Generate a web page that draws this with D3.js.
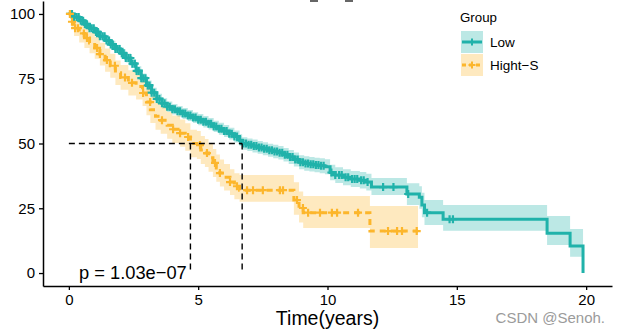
<!DOCTYPE html>
<html><head><meta charset="utf-8">
<script src="https://cdn.jsdelivr.net/npm/d3@7"></script>
<style>
body{margin:0;background:#fff}
svg{display:block;font-family:"Liberation Sans",Arial,Helvetica,sans-serif}
</style></head>
<body><svg id="chart" width="620" height="333"></svg>
<script>
// ---------- data ----------
const groups = ["Low", "Hight\u2212S"];
const groupColors = ["#20B2AA", "#FCB62C"];

const lowTime  = [0,0.2,0.4,0.6,0.8,1.0,1.2,1.4,1.6,1.8,2.0,2.2,2.4,2.6,2.8,3.0,3.2,3.4,3.6,3.8,4.0,4.2,4.4,4.6,4.8,5.0,5.2,5.4,5.6,5.8,6.0,6.2,6.4,6.6,6.7,6.9,7.1,7.3,7.5,7.7,7.9,8.1,8.3,8.5,8.7,8.9,9.1,9.3,9.5,9.7,9.9,10.1,10.3,10.6,10.9,11.25,11.5,11.7,13.07,13.55,13.65,13.75,14.47,18.49,19.38,19.88];
const lowSurv  = [100,98.8,97.4,96.0,94.5,93.0,91.4,89.8,88.2,86.5,84.8,83.0,80.8,78.0,75.2,72.4,69.6,67.2,65.5,64.2,63.2,62.4,61.6,60.8,60.0,59.2,58.4,57.6,56.6,55.7,54.8,53.8,52.7,51.3,50.0,49.5,49.0,48.5,48.0,47.4,46.9,46.4,45.7,44.8,43.8,42.8,42.3,42.0,41.7,41.4,41.0,38.8,37.8,37.0,36.3,35.8,35.1,33.2,30.5,29.3,26.3,23.3,20.8,15.4,10.4,0];
const lowLower = [100,98.0,96.4,94.9,93.3,91.7,90.0,88.3,86.7,84.9,83.2,81.3,79.1,76.2,73.4,70.5,67.7,65.2,63.5,62.2,61.2,60.3,59.5,58.7,57.9,57.0,56.2,55.4,54.4,53.4,52.5,51.5,50.4,49.0,47.6,47.1,46.5,46.0,45.5,44.9,44.3,43.8,43.1,42.1,41.1,40.1,39.5,39.2,38.9,38.5,38.1,35.8,34.8,33.9,33.2,32.6,31.9,30.1,26.3,24.8,21.5,18.5,16.3,10.8,6.3,6.3];
const lowUpper = [100,99.6,98.4,97.1,95.7,94.3,92.8,91.3,89.7,88.1,86.4,84.7,82.5,79.8,77.0,74.3,71.5,69.2,67.5,66.2,65.2,64.5,63.7,62.9,62.1,61.4,60.6,59.8,58.8,58.0,57.1,56.1,55.0,53.6,52.4,51.9,51.5,51.0,50.5,49.9,49.5,49.0,48.3,47.5,46.5,45.5,45.1,44.8,44.5,44.3,43.9,41.8,40.8,40.1,39.4,39.0,38.3,36.7,34.7,33.5,31.0,28.2,26.3,22.0,17.0,17.0];
const lowCensor = [0.05,0.12,0.2,0.3,0.38,0.46,0.55,0.62,0.7,0.8,0.88,0.96,1.05,1.12,1.2,1.3,1.38,1.46,1.55,1.62,1.7,1.8,1.88,1.96,2.05,2.12,2.2,2.3,2.38,2.46,2.55,2.62,2.7,2.8,2.88,2.96,3.05,3.12,3.2,3.3,3.4,3.5,3.6,3.7,3.8,3.9,4.0,4.1,4.2,4.3,4.4,4.5,4.6,4.7,4.8,4.9,5.0,5.1,5.2,5.3,5.4,5.5,5.6,5.7,5.8,5.9,6.0,6.1,6.2,6.3,6.4,6.5,6.62,6.75,6.85,6.95,7.05,7.15,7.25,7.35,7.45,7.55,7.65,7.75,7.85,7.95,8.05,8.15,8.25,8.35,8.45,8.55,8.65,8.75,8.85,8.95,9.05,9.15,9.25,9.35,9.45,9.55,9.65,9.75,9.85,10.15,10.3,10.45,10.55,10.7,10.8,10.95,11.05,11.15,11.3,11.4,11.55,12.15,12.55,13.12,13.85,14.72,14.85];

const highTime  = [0,0.1,0.2,0.4,0.6,0.8,1.0,1.2,1.4,1.6,1.8,2.0,2.3,2.6,2.85,3.0,3.15,3.35,3.55,3.8,4.0,4.3,4.5,4.7,4.95,5.1,5.26,5.4,5.57,5.7,5.84,6.0,6.23,6.4,6.6,8.7,8.9,9.06,11.64,13.5];
const highSurv  = [100,97.0,94.5,92.5,90.7,88.8,86.9,84.5,82.2,80.0,77.3,75.5,73.4,72.0,69.5,66.0,63.0,60.5,59.0,57.0,55.5,54.0,52.5,50.0,49.4,47.5,46.3,44.5,42.5,40.5,38.6,37.0,35.1,33.5,32.0,28.2,25.1,23.3,16.2,16.2];
const highLower = [100,94.5,91.5,89.0,86.9,84.8,82.7,80.1,77.7,75.4,72.6,70.7,68.5,67.0,64.5,60.9,57.9,55.3,53.8,51.8,50.2,48.7,47.2,44.7,44.0,42.1,40.9,39.1,37.1,35.2,33.4,31.9,30.1,28.5,27.5,22.5,19.5,17.4,9.7,9.7];
const highUpper = [100,99.5,97.5,96.0,94.5,92.8,91.1,88.9,86.7,84.6,82.0,80.3,78.3,77.0,74.5,71.1,68.1,65.7,64.2,62.2,60.8,59.3,57.8,55.3,54.8,52.9,51.7,49.9,47.9,45.8,43.8,42.1,40.1,38.5,37.8,35.0,31.5,29.7,25.9,25.9];
const highCensor = [0.04,0.12,0.24,0.35,0.58,0.7,1.09,1.2,1.47,1.78,2.17,2.44,2.87,3.14,3.6,4.03,4.3,4.61,5.07,5.34,5.65,5.84,6.23,6.5,6.89,7.12,7.5,8.16,8.28,8.82,9.05,9.25,9.71,10.17,10.37,11.18,12.34,12.69,12.88,13.45];

const medianTimes = [6.7, 4.7];
const medianLevel = 50;
const xTicks = [0, 5, 10, 15, 20];
const yTicks = [0, 25, 50, 75, 100];
const xTitle = "Time(years)";
const legendTitle = "Group";
const pLabel = "p = 1.03e\u221207";
const watermark = "CSDN @Senoh.";

// ---------- layout ----------
const svg = d3.select("#chart");
const x = d3.scaleLinear().domain([-1, 21]).range([43, 612]);
const y = d3.scaleLinear().domain([-5, 105]).range([286, 1]);

const series = [
  {name: groups[0], color: groupColors[0], time: lowTime, surv: lowSurv, lo: lowLower, hi: lowUpper, cens: lowCensor, dash: null},
  {name: groups[1], color: groupColors[1], time: highTime, surv: highSurv, lo: highLower, hi: highUpper, cens: highCensor, dash: "6,5"}
];

// bands
series.forEach(s => {
  const pts = s.time.map((t, i) => ({t, lo: s.lo[i], hi: s.hi[i]}));
  svg.append("path")
    .attr("d", d3.area().curve(d3.curveStepAfter)
      .x(d => x(d.t)).y0(d => y(d.lo)).y1(d => y(d.hi))(pts))
    .attr("fill", s.color).attr("fill-opacity", 0.3).attr("stroke", "none");
});

// curves
series.forEach(s => {
  const pts = s.time.map((t, i) => ({t, v: s.surv[i]}));
  svg.append("path")
    .attr("d", d3.line().curve(d3.curveStepAfter).x(d => x(d.t)).y(d => y(d.v))(pts))
    .attr("fill", "none").attr("stroke", s.color).attr("stroke-width", 3)
    .attr("stroke-dasharray", s.dash);
});

// censor marks
series.forEach(s => {
  const bis = d3.bisector(d => d).right;
  s.cens.forEach(c => {
    const i = Math.max(0, bis(s.time, c) - 1);
    const cx = x(c), cy = y(s.surv[i]);
    svg.append("path")
      .attr("d", `M${cx-4},${cy}H${cx+4}M${cx},${cy-4}V${cy+4}`)
      .attr("stroke", s.color).attr("stroke-width", 2.2).attr("fill", "none");
  });
});

// median lines
const med = svg.append("g").attr("stroke", "#000").attr("stroke-width", 1.4)
  .attr("stroke-dasharray", "6,4").attr("fill", "none");
med.append("line").attr("x1", x(0)).attr("x2", x(d3.max(medianTimes)))
  .attr("y1", y(medianLevel)).attr("y2", y(medianLevel));
medianTimes.forEach(m => {
  med.append("line").attr("x1", x(m)).attr("x2", x(m))
    .attr("y1", y(medianLevel)).attr("y2", y(0));
});

// axes
const yAxis = svg.append("g").attr("transform", "translate(43,0)")
  .call(d3.axisLeft(y).tickValues(yTicks).tickSize(4).tickSizeOuter(0).tickPadding(4));
const xAxis = svg.append("g").attr("transform", "translate(0,286)")
  .call(d3.axisBottom(x).tickValues(xTicks).tickSize(4).tickSizeOuter(0).tickPadding(4));
[yAxis, xAxis].forEach(a => {
  a.attr("font-family", null).attr("font-size", null);
  a.select(".domain").attr("stroke", "#000").attr("stroke-width", 1.5);
  a.selectAll(".tick line").attr("stroke", "#000").attr("stroke-width", 1.3);
  a.selectAll(".tick text").attr("fill", "#000").style("font-size", "15px");
});

// title remnants at top (clipped title)
svg.append("line").attr("x1", 310).attr("x2", 318).attr("y1", 1).attr("y2", 1).attr("stroke", "#333").attr("stroke-width", 1.5);
svg.append("line").attr("x1", 345).attr("x2", 353).attr("y1", 1).attr("y2", 1).attr("stroke", "#333").attr("stroke-width", 1.5);

// p value
svg.append("text").attr("x", 79).attr("y", 279).attr("font-size", 18.3).attr("fill", "#000").text(pLabel);

// x title
svg.append("text").attr("x", x(10)).attr("y", 325).attr("text-anchor", "middle")
  .attr("font-size", 19.5).attr("fill", "#000").text(xTitle);

// legend
const lg = svg.append("g");
lg.append("text").attr("x", 460).attr("y", 21.5).attr("font-size", 13.3).attr("fill", "#000").text(legendTitle);
series.forEach((s, i) => {
  const top = 31 + i * 23;
  lg.append("rect").attr("x", 461).attr("y", top).attr("width", 22).attr("height", 22)
    .attr("fill", s.color).attr("fill-opacity", 0.3);
  lg.append("line").attr("x1", 462).attr("x2", 482).attr("y1", top + 11).attr("y2", top + 11)
    .attr("stroke", s.color).attr("stroke-width", 3).attr("stroke-dasharray", s.dash ? "4,3" : null);
  lg.append("path").attr("d", `M${472},${top+7.5}V${top+14.5}M${468.5},${top+11}H${475.5}`)
    .attr("stroke", s.color).attr("stroke-width", 2);
  lg.append("text").attr("x", 490).attr("y", top + 16).attr("font-size", 13.5).attr("fill", "#000").text(s.name);
});

// watermark
svg.append("text").attr("x", 605).attr("y", 323).attr("text-anchor", "end")
  .attr("font-size", 15).attr("fill", "#9b9b9b").text(watermark);
</script>
</body></html>
